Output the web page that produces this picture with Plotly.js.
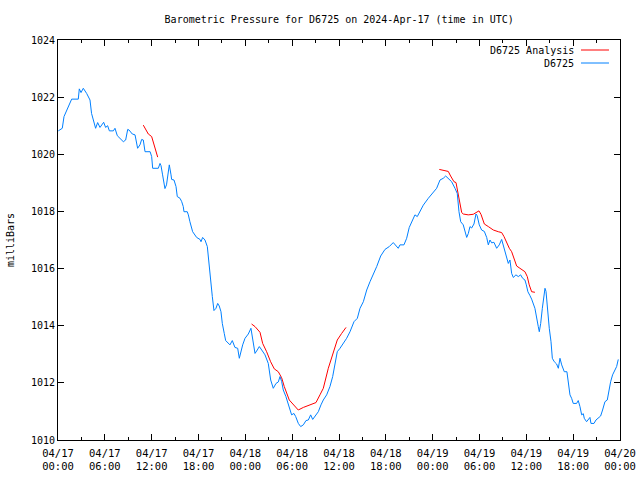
<!DOCTYPE html>
<html>
<head>
<meta charset="utf-8">
<script src="https://cdn.plot.ly/plotly-3.0.1.min.js"></script>
<style>html,body{margin:0;padding:0;background:#fff;}#chart{width:640px;height:480px;}</style>
</head>
<body>
<div id="chart"></div>
<script>
// Hours since 2024-04-17 00:00 UTC
var stationHours = [0.04,0.55,0.77,1.3,1.75,2.6,2.73,2.95,3.24,3.67,4.1,4.3,4.65,4.82,5.08,5.38,5.85,6.1,6.36,6.58,7.09,7.3,7.6,8.15,8.37,8.67,8.93,9.1,9.52,9.87,10.2,10.5,10.72,10.93,11.15,11.8,12.0,12.13,12.85,13.07,13.2,13.4,13.58,13.7,13.9,14.13,14.26,14.48,14.56,14.86,15.12,15.28,15.63,15.85,16.05,16.14,16.56,16.7,16.82,16.9,17.25,17.76,18.19,18.32,18.53,18.83,19.13,19.26,19.47,19.56,19.77,19.98,20.24,20.46,20.66,20.88,21.05,21.3,21.48,22.03,22.33,22.67,23.02,23.23,23.4,23.66,23.96,24.38,24.72,24.94,25.24,25.53,25.79,26.1,26.52,26.94,27.25,27.58,27.93,28.22,28.44,28.65,28.86,29.2,29.63,29.93,30.23,30.45,30.79,31.09,31.43,31.77,32.07,32.37,32.63,32.92,33.35,33.69,33.99,34.42,34.84,35.19,35.49,35.78,36.13,36.55,36.98,37.41,37.92,38.35,38.69,39.12,39.55,39.97,40.4,40.83,41.34,41.89,42.44,42.95,43.59,43.81,44.32,44.67,45.0,45.31,45.73,46.03,46.37,46.8,47.44,48.08,48.51,48.94,49.36,49.67,50.0,50.43,50.86,51.15,51.37,51.59,51.92,52.14,52.36,52.57,52.78,52.99,53.29,53.55,53.7,53.97,54.27,54.62,54.92,55.13,55.34,55.56,55.85,56.2,56.53,56.84,57.14,57.39,57.69,57.9,58.12,58.33,58.67,58.97,59.27,59.53,59.82,60.0,60.2,60.47,60.68,61.1,61.32,61.53,61.66,61.84,62.05,62.26,62.39,62.52,62.68,62.94,63.16,63.33,63.58,63.88,64.1,64.31,64.53,64.74,64.86,65.2,65.38,65.59,65.8,66.01,66.44,66.65,66.87,67.09,67.3,67.42,67.72,67.93,68.15,68.28,68.67,68.92,69.23,69.52,69.77,70.07,70.37,70.59,70.8,71.05,71.36,71.57,71.78];
var stationPressure = [1020.82,1020.91,1021.32,1021.67,1021.93,1021.93,1022.29,1022.16,1022.31,1022.13,1021.9,1021.43,1021.08,1020.91,1021.11,1020.94,1021.12,1020.94,1021.0,1020.82,1020.82,1020.91,1020.65,1020.5,1020.44,1020.5,1020.87,1020.85,1020.71,1020.68,1020.21,1020.33,1020.52,1020.5,1020.09,1020.09,1019.92,1019.51,1019.51,1019.68,1019.6,1019.28,1018.93,1018.8,1018.93,1019.51,1019.63,1019.28,1019.12,1019.1,1018.87,1018.52,1018.46,1018.34,1018.17,1017.99,1017.99,1017.88,1017.72,1017.64,1017.29,1017.09,1017.02,1016.94,1017.09,1017.0,1016.77,1016.42,1015.83,1015.37,1015.02,1014.53,1014.61,1014.78,1014.69,1014.49,1014.08,1013.73,1013.48,1013.33,1013.48,1013.24,1013.21,1012.86,1013.06,1013.33,1013.56,1013.71,1013.91,1013.5,1013.03,1013.15,1013.27,1013.15,1012.98,1012.68,1012.1,1011.81,1011.98,1012.03,1012.22,1012.05,1011.75,1011.52,1011.17,1010.88,1010.93,1010.82,1010.58,1010.47,1010.53,1010.68,1010.7,1010.88,1010.72,1010.84,1010.99,1011.23,1011.4,1011.58,1011.87,1012.22,1012.68,1013.09,1013.21,1013.38,1013.56,1013.79,1014.14,1014.26,1014.61,1014.84,1015.25,1015.54,1015.78,1016.07,1016.44,1016.67,1016.77,1016.91,1016.71,1016.83,1016.83,1017.06,1017.44,1017.64,1017.88,1017.82,1017.99,1018.22,1018.46,1018.66,1018.81,1019.1,1019.16,1019.24,1019.15,1019.04,1018.81,1018.63,1017.99,1017.64,1017.53,1017.29,1017.09,1017.23,1017.47,1017.42,1017.56,1017.91,1017.85,1017.53,1017.35,1017.3,1017.09,1016.83,1017.0,1016.9,1016.92,1016.71,1016.83,1017.02,1016.74,1016.42,1016.18,1016.3,1015.83,1015.69,1015.78,1015.72,1015.78,1015.66,1015.6,1015.43,1015.19,1015.05,1014.93,1014.61,1014.2,1013.97,1013.79,1014.08,1014.61,1015.16,1015.31,1015.2,1014.61,1013.91,1013.44,1012.86,1012.74,1012.66,1012.51,1012.86,1012.63,1012.51,1012.39,1012.39,1011.93,1011.58,1011.46,1011.28,1011.28,1011.38,1011.17,1010.88,1010.92,1010.76,1010.64,1010.7,1010.79,1010.58,1010.58,1010.7,1010.79,1010.84,1011.05,1011.34,1011.4,1011.81,1012.04,1012.28,1012.45,1012.57,1012.82];

// Analysis segments (null separates segments)
var analysisHours = [10.93,11.57,12.0,12.43,12.77,null,24.8,25.24,25.88,26.22,26.73,27.24,27.71,28.22,28.65,28.99,29.63,30.15,30.78,31.43,32.41,33.05,33.56,33.99,34.63,35.19,35.78,36.34,36.9,null,48.85,49.58,50.0,50.3,50.73,50.99,51.28,51.5,51.72,51.92,52.56,53.2,53.63,53.93,54.19,54.62,55.13,55.77,56.41,56.84,57.14,57.56,57.82,58.12,58.42,58.76,59.18,59.82,60.12,60.37,60.68,61.1];
var analysisPressure = [1021.02,1020.71,1020.62,1020.21,1019.9,null,1014.06,1013.97,1013.77,1013.38,1013.09,1012.74,1012.49,1012.39,1012.18,1011.87,1011.4,1011.23,1011.05,1011.14,1011.26,1011.31,1011.58,1011.81,1012.51,1013.03,1013.5,1013.73,1013.94,null,1019.47,1019.43,1019.4,1019.24,1019.04,1019.01,1018.58,1018.28,1017.96,1017.91,1017.88,1017.9,1017.96,1018.02,1017.9,1017.56,1017.47,1017.35,1017.29,1017.26,1017.12,1016.83,1016.71,1016.59,1016.36,1016.09,1016.01,1015.89,1015.72,1015.43,1015.19,1015.17];

var xTickVals = [0,6,12,18,24,30,36,42,48,54,60,66,72];
var xTickText = ['04/17<br>00:00','04/17<br>06:00','04/17<br>12:00','04/17<br>18:00','04/18<br>00:00','04/18<br>06:00','04/18<br>12:00','04/18<br>18:00','04/19<br>00:00','04/19<br>06:00','04/19<br>12:00','04/19<br>18:00','04/20<br>00:00'];
var yTickVals = [1010,1012,1014,1016,1018,1020,1022,1024];

var seriesNames = ['D6725 Analysis','D6725'];
var seriesColors = ['#ff0000','#0080ff'];

var FONT = 'DejaVu Sans Mono, monospace';

var traces = [
  {x: analysisHours, y: analysisPressure, mode: 'lines', name: seriesNames[0],
   line: {color: seriesColors[0], width: 1}, connectgaps: false, showlegend: false},
  {x: stationHours, y: stationPressure, mode: 'lines', name: seriesNames[1],
   line: {color: seriesColors[1], width: 1}, showlegend: false}
];

// gnuplot-style legend: right-aligned text with a line sample on the right
var legY = [0.975, 0.9425];
var annotations = [];
var shapes = [];
for (var i = 0; i < seriesNames.length; i++) {
  annotations.push({xref:'paper', yref:'paper', x:0.921, y:legY[i], xanchor:'right', yanchor:'middle',
    text: seriesNames[i], showarrow:false, font:{family:FONT, size:10, color:'#000'}});
  shapes.push({type:'line', xref:'paper', yref:'paper', x0:0.9306, x1:0.9804, y0:legY[i], y1:legY[i],
    line:{color:seriesColors[i], width:1}});
}

var layout = {
  width: 640, height: 480,
  margin: {l: 58, r: 20, t: 40, b: 40, pad: 0},
  paper_bgcolor: '#fff', plot_bgcolor: '#fff',
  font: {family: FONT, size: 10, color: '#000'},
  title: {text: 'Barometric Pressure for D6725 on 2024-Apr-17 (time in UTC)',
          x: 0.53, xanchor: 'center', y: 0.96, yanchor: 'middle',
          font: {family: FONT, size: 10, color: '#000'}},
  xaxis: {range: [0, 72], tickmode: 'array', tickvals: xTickVals, ticktext: xTickText,
          ticks: 'inside', ticklen: 6, tickcolor: '#000', tickwidth: 1,
          ticklabelstandoff: 3,
          showline: true, linecolor: '#000', linewidth: 1, mirror: 'ticks',
          showgrid: false, zeroline: false,
          minor: {tickmode: 'linear', tick0: 0, dtick: 3, ticks: 'inside', ticklen: 3, tickcolor: '#000', showgrid: false},
          tickfont: {family: FONT, size: 10.5, color: '#000'}},
  yaxis: {range: [1010, 1024], tickmode: 'array', tickvals: yTickVals,
          ticks: 'inside', ticklen: 6, tickcolor: '#000', tickwidth: 1,
          showline: true, linecolor: '#000', linewidth: 1, mirror: 'ticks',
          showgrid: false, zeroline: false,
          tickfont: {family: FONT, size: 10, color: '#000'},
          title: {text: 'milliBars', standoff: 14, font: {family: FONT, size: 10, color: '#000'}}},
  annotations: annotations,
  shapes: shapes,
  showlegend: false
};

Plotly.newPlot('chart', traces, layout, {staticPlot: true, displayModeBar: false});
</script>
</body>
</html>
